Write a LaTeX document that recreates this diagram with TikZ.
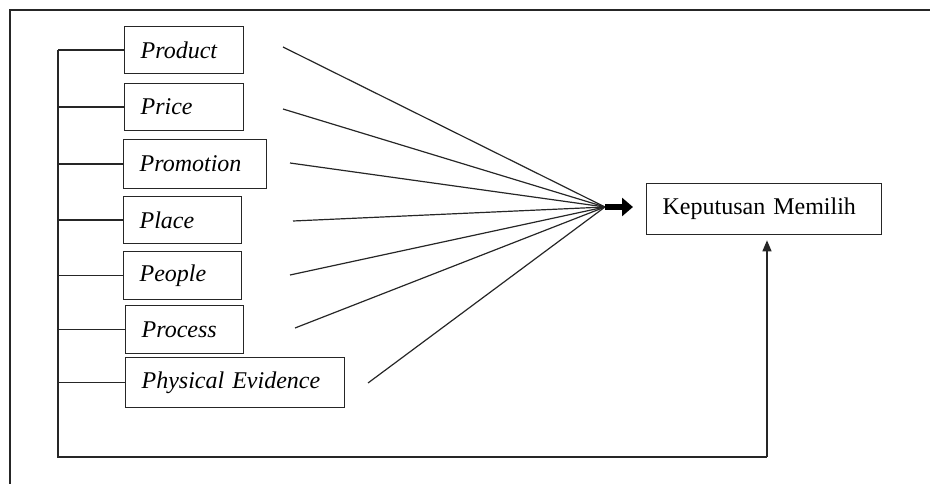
\documentclass[tikz,border=0pt]{standalone}
\usepackage{fontspec}
\setmainfont{Liberation Serif}
\usetikzlibrary{arrows.meta}
\begin{document}
\begin{tikzpicture}[x=1pt,y=-1pt,
  line/.style={line width=1.3pt, draw=black!85},
  factor/.style={draw=black!85, line width=1.3pt, rectangle, anchor=north west,
    inner xsep=16pt, inner ysep=0pt, align=left,
    font=\fontsize{24}{28}\selectfont\itshape},
  outcome/.style={factor, font=\fontsize{24}{28}\selectfont}
]
\useasboundingbox (0,0) rectangle (930,484);
% outer frame (cut at right and bottom)
\draw[line] (10,484) -- (10,10) -- (932,10);

% factor boxes
\node[factor, text width=87pt,  minimum height=47pt] (prod)    at (124,26)  {Product};
\node[factor, text width=87pt,  minimum height=47pt] (price)   at (124,83)  {Price};
\node[factor, text width=111pt, minimum height=49pt] (promo)   at (123,139) {Promotion};
\node[factor, text width=86pt,  minimum height=47pt] (place)   at (123,196) {Place};
\node[factor, text width=86pt,  minimum height=48pt] (people)  at (123,251) {People};
\node[factor, text width=86pt,  minimum height=48pt] (process) at (125,305) {Process};
\node[factor, text width=187pt, minimum height=50pt] (phys)    at (125,357) {Physical Evidence};
\node[outcome, text width=203pt, minimum height=51pt] (kep)    at (646,183) {Keputusan Memilih};

% bracket
\coordinate (bus) at (58,0);
\coordinate (c1) at (58,457);
\coordinate (c2) at (767,457);
\draw[line] (prod.west -| bus) -- (c1) -- (c2);
\draw[line, -{Triangle[width=9pt,length=11pt]}, shorten >=5pt] (c2) -- (kep.south -| c2);
\foreach \n in {prod,price,promo,place,people,process,phys}
  \draw[line] (\n.west -| bus) -- (\n.west);

% fan of lines
\coordinate (m) at (605,207);
\coordinate (s1) at (283,47);
\coordinate (s2) at (283,109);
\coordinate (s3) at (290,163);
\coordinate (s4) at (293,221);
\coordinate (s5) at (290,275);
\coordinate (s6) at (295,328);
\coordinate (s7) at (368,383);
\foreach \s in {s1,s2,s3,s4,s5,s6,s7}
  \draw[line, line width=1.2pt] (\s) -- (m);

% thick arrow
\coordinate (t) at (633,207);
\draw[line width=6pt, -{Triangle[width=18pt,length=11pt]}] (m) -- (t);
\end{tikzpicture}
\end{document}
